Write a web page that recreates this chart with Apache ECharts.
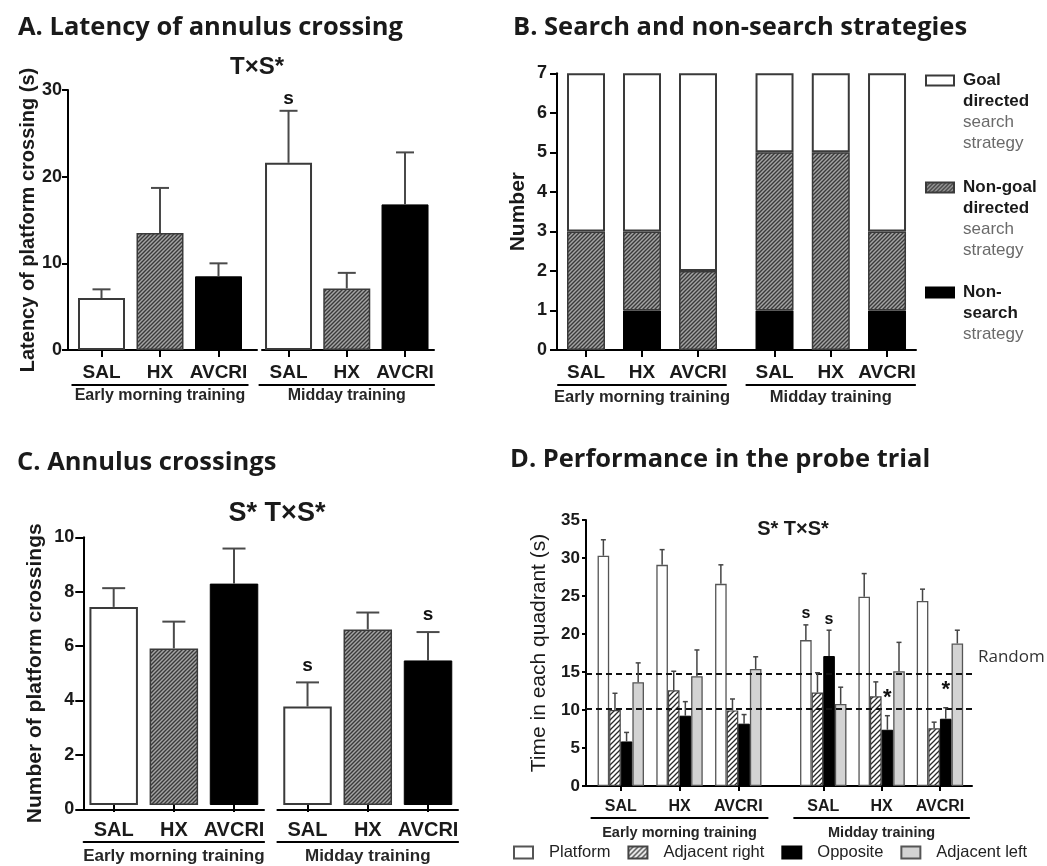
<!DOCTYPE html>
<html><head><meta charset="utf-8">
<script src="https://cdn.jsdelivr.net/npm/echarts@6/dist/echarts.min.js"></script>
<style>html,body{margin:0;padding:0;background:#fff}#chart{width:1047px;height:866px}</style>
</head><body><div id="chart"></div>
<script>
// ---------------- data ----------------
const treatments = ['SAL', 'HX', 'AVCRI'];
const trainingGroups = ['Early morning training', 'Midday training'];

// A. Latency of annulus crossing (s)
const latencyEarly = [6.0, 13.5, 8.5];
const latencyEarlyUpper = [7.0, 18.7, 10.0];
const latencyMidday = [21.6, 7.1, 16.8];
const latencyMiddayUpper = [27.6, 8.9, 22.8];
const latencyMiddayMarks = ['s', '', ''];

// B. Search strategies (number of animals)
const strategyNames = ['Non-search strategy', 'Non-goal directed search strategy', 'Goal directed search strategy'];
const nonSearchEarly = [0, 1, 0];
const nonGoalEarly = [3, 2, 2];
const goalEarly = [4, 4, 5];
const nonSearchMidday = [1, 0, 1];
const nonGoalMidday = [4, 5, 2];
const goalMidday = [2, 2, 4];

// C. Annulus crossings
const crossingsEarly = [7.4, 5.85, 8.27];
const crossingsEarlyUpper = [8.1, 6.85, 9.58];
const crossingsMidday = [3.68, 6.56, 5.4];
const crossingsMiddayUpper = [4.58, 7.19, 6.46];
const crossingsMiddayMarks = ['s', '', 's'];

// D. Probe trial, time in each quadrant (s); rows = quadrants
const quadrants = ['Platform', 'Adjacent right', 'Opposite', 'Adjacent left'];
const probeEarly = [[30.3, 29.1, 26.6], [10.0, 12.6, 9.95], [5.86, 9.25, 8.2], [13.66, 14.45, 15.4]];
const probeEarlyUpper = [[32.4, 31.1, 29.1], [12.2, 15.1, 11.45], [7.05, 11.1, 9.4], [16.2, 17.9, 17.0]];
const probeMidday = [[19.2, 24.9, 24.35], [12.3, 11.8, 7.6], [17.1, 7.4, 8.85], [10.8, 15.1, 18.75]];
const probeMiddayUpper = [[21.2, 27.95, 25.9], [14.9, 13.7, 8.4], [20.5, 9.25, 10.3], [13.0, 18.9, 20.5]];
const probeEarlyMarks = [['', '', ''], ['', '', ''], ['', '', ''], ['', '', '']];
const probeMiddayMarks = [['s', '', ''], ['', '', ''], ['s', '*', '*'], ['', '', '']];
const randomLevels = [14.8, 10.1];

// ---------------- styles ----------------
const F = '"Liberation Sans", Arial, sans-serif';
const TF = '"Open Sans", Lato, sans-serif';

function hatch(size, bg, fg, lw) {
  const c = document.createElement('canvas');
  c.width = c.height = size;
  const g = c.getContext('2d');
  g.fillStyle = bg; g.fillRect(0, 0, size, size);
  g.strokeStyle = fg; g.lineWidth = lw;
  g.beginPath();
  g.moveTo(-size, 2 * size); g.lineTo(2 * size, -size);
  g.moveTo(-size, size); g.lineTo(size, -size);
  g.moveTo(0, 2 * size); g.lineTo(2 * size, 0);
  g.stroke();
  return { image: c, repeat: 'repeat' };
}
const hatchDark = hatch(4, '#a4a4a4', '#3a3a3a', 1.4);
const hatchLight = hatch(5, '#ffffff', '#2a2a2a', 1.3);

const option = { animation: false, grid: [], xAxis: [], yAxis: [], series: [], legend: [], graphic: [] };

function addGrid(left, width, top, height) {
  option.grid.push({ left: left, width: width, top: top, height: height, containLabel: false });
  return option.grid.length - 1;
}

// baseline axes (full axis lines + value axis)
function baseAxes(segments, top, height, ymax, yint, cfg) {
  let first = null;
  segments.forEach(function (seg, k) {
    const gi = addGrid(seg[0], seg[1] - seg[0], top, height);
    const xi = option.xAxis.length;
    option.xAxis.push({ gridIndex: gi, type: 'value', min: 0, max: 1,
      axisLine: { show: true, onZero: false, lineStyle: { color: '#000', width: cfg.lw } },
      axisTick: { show: false }, axisLabel: { show: false }, splitLine: { show: false } });
    const yi = option.yAxis.length;
    if (k === 0) {
      option.yAxis.push({ gridIndex: gi, type: 'value', min: 0, max: ymax, interval: yint,
        name: cfg.name, nameLocation: 'middle', nameGap: cfg.nameGap,
        nameTextStyle: { fontFamily: F, fontSize: cfg.nameSize, fontWeight: cfg.nameWeight || 'bold', color: '#1a1a1a' },
        axisLine: { show: true, lineStyle: { color: '#000', width: cfg.lw } },
        axisTick: { show: true, length: cfg.tick, lineStyle: { color: '#000', width: cfg.lw } },
        axisLabel: { margin: cfg.margin, fontFamily: F, fontSize: cfg.labelSize, fontWeight: 'bold', color: '#1a1a1a' },
        splitLine: { show: false } });
      first = { xi: xi, yi: yi };
    } else {
      option.yAxis.push({ gridIndex: gi, type: 'value', min: 0, max: ymax, show: false });
    }
  });
  return first;
}

function dataGrid(left, width, top, height, ymax, groupName, cfg) {
  const gi = addGrid(left, width, top, height);
  const xi = option.xAxis.length;
  option.xAxis.push({ gridIndex: gi, type: 'category', data: treatments,
    axisLine: { show: false },
    axisTick: { show: true, alignWithLabel: true, interval: 0, length: cfg.tickLen, lineStyle: { color: '#000', width: cfg.lw } },
    axisLabel: { interval: 0, margin: cfg.labelMargin, fontFamily: F, fontSize: cfg.labelSize, fontWeight: 'bold', color: '#1a1a1a' } });
  option.xAxis.push({ gridIndex: gi, type: 'category', data: treatments, position: 'bottom', offset: cfg.ulOffset,
    axisLine: { show: true, lineStyle: { color: '#000', width: 2 } },
    axisTick: { show: false }, axisLabel: { show: false },
    name: groupName, nameLocation: 'middle', nameGap: cfg.nameGap,
    nameTextStyle: { fontFamily: F, fontSize: cfg.groupSize, fontWeight: 'bold', color: '#262626' } });
  const yi = option.yAxis.length;
  option.yAxis.push({ gridIndex: gi, type: 'value', min: 0, max: ymax, show: false });
  return { xi: xi, yi: yi };
}

function errSeries(g, means, uppers, opts) {
  return { type: 'custom', xAxisIndex: g.xi, yAxisIndex: g.yi, z: 5, silent: true,
    data: means.map(function (m, i) { return [i, m, uppers[i]]; }),
    renderItem: function (params, api) {
      const i = api.value(0);
      const p0 = api.coord([i, api.value(1)]);
      const p1 = api.coord([i, api.value(2)]);
      const x = p0[0] + (opts.offset || 0);
      const hw = opts.cap / 2;
      const ch = [
        { type: 'line', shape: { x1: x, y1: p0[1], x2: x, y2: p1[1] }, style: { stroke: opts.color, lineWidth: opts.lw } },
        { type: 'line', shape: { x1: x - hw, y1: p1[1], x2: x + hw, y2: p1[1] }, style: { stroke: opts.color, lineWidth: opts.lw } }
      ];
      const mk = opts.marks ? opts.marks[i] : '';
      if (mk) {
        const big = mk === '*';
        ch.push({ type: 'text', style: { text: mk, x: x, y: p1[1] - (big ? opts.starGap : opts.markGap),
          align: 'center', verticalAlign: 'middle', textAlign: 'center', textVerticalAlign: 'middle',
          fontFamily: F, fontWeight: 'bold', fontSize: big ? opts.starSize : opts.markSize, fill: '#111' } });
      }
      return { type: 'group', children: ch };
    } };
}

const styleWhite = { color: '#fff', borderColor: '#3a3a3a', borderWidth: 2 };
const styleHatch = { color: hatchDark, borderColor: '#3a3a3a', borderWidth: 1.5 };
const styleBlack = { color: '#000', borderColor: '#000', borderWidth: 1 };
const treatStyles = [styleWhite, styleHatch, styleBlack];

function simpleBars(g, vals, bw) {
  return { type: 'bar', xAxisIndex: g.xi, yAxisIndex: g.yi, barWidth: bw, z: 2,
    data: vals.map(function (v, i) { return { value: v, itemStyle: treatStyles[i] }; }) };
}

// ---------------- Panel A ----------------
(function () {
  const top = 90, h = 260;
  baseAxes([[68, 257], [262, 434]], top, h, 30, 10,
    { lw: 2, tick: 6, margin: 6, labelSize: 18, name: 'Latency of platform crossing (s)', nameGap: 30, nameSize: 20 });
  const cfg = { tickLen: 7, lw: 2, labelMargin: 13, labelSize: 19, ulOffset: 35, nameGap: 3, groupSize: 16 };
  const ge = dataGrid(72.25, 175.5, top, h, 30, trainingGroups[0], cfg);
  const gm = dataGrid(259.4, 174.75, top, h, 30, trainingGroups[1], cfg);
  const eo = { cap: 18, color: '#4a4a4a', lw: 2, markGap: 12, markSize: 19 };
  option.series.push(simpleBars(ge, latencyEarly, 47), simpleBars(gm, latencyMidday, 47));
  option.series.push(errSeries(ge, latencyEarly, latencyEarlyUpper, eo));
  option.series.push(errSeries(gm, latencyMidday, latencyMiddayUpper, Object.assign({ marks: latencyMiddayMarks }, eo)));
})();

// ---------------- Panel C ----------------
(function () {
  const top = 537.3, h = 272;
  baseAxes([[83.3, 264], [277.4, 458]], top, h, 10, 2,
    { lw: 2, tick: 8, margin: 9, labelSize: 18, name: 'Number of platform crossings', nameGap: 38, nameSize: 21 });
  const cfg = { tickLen: 7, lw: 2, labelMargin: 15, labelSize: 20, ulOffset: 37, nameGap: 6, groupSize: 17 };
  const ge = dataGrid(83.6, 180.5, top, h, 10, trainingGroups[0], cfg);
  const gm = dataGrid(277.4, 180.75, top, h, 10, trainingGroups[1], cfg);
  const eo = { cap: 23, color: '#4a4a4a', lw: 2, markGap: 17, markSize: 19 };
  option.series.push(simpleBars(ge, crossingsEarly, 48.5), simpleBars(gm, crossingsMidday, 48.5));
  option.series.push(errSeries(ge, crossingsEarly, crossingsEarlyUpper, eo));
  option.series.push(errSeries(gm, crossingsMidday, crossingsMiddayUpper, Object.assign({ marks: crossingsMiddayMarks }, eo)));
})();

// ---------------- Panel B ----------------
(function () {
  const top = 73.3, h = 276.7;
  baseAxes([[557, 916]], top, h, 7, 1,
    { lw: 2, tick: 7, margin: 10, labelSize: 18, name: 'Number', nameGap: 28, nameSize: 21 });
  const cfg = { tickLen: 7, lw: 2, labelMargin: 13, labelSize: 19, ulOffset: 35, nameGap: 4, groupSize: 16.5 };
  const ge = dataGrid(558, 168, top, h, 7, trainingGroups[0], cfg);
  const gm = dataGrid(746.4, 168.75, top, h, 7, trainingGroups[1], cfg);
  const stStyles = [
    { color: '#000', borderColor: '#000', borderWidth: 1 },
    { color: hatchDark, borderColor: '#3a3a3a', borderWidth: 1.5 },
    { color: '#fff', borderColor: '#3a3a3a', borderWidth: 2 }
  ];
  [[ge, [nonSearchEarly, nonGoalEarly, goalEarly], 'e'], [gm, [nonSearchMidday, nonGoalMidday, goalMidday], 'm']].forEach(function (d) {
    d[1].forEach(function (vals, k) {
      option.series.push({ type: 'bar', name: strategyNames[k], stack: 'st' + d[2], xAxisIndex: d[0].xi, yAxisIndex: d[0].yi,
        barWidth: 38, z: 2, itemStyle: stStyles[k], data: vals });
    });
  });
  const rich = {
    b: { fontFamily: F, fontSize: 17, fontWeight: 'bold', color: '#1a1a1a', lineHeight: 21 },
    n: { fontFamily: F, fontSize: 17, color: '#6a6a6a', lineHeight: 21 }
  };
  const legendItems = [
    { name: strategyNames[2], text: '{b|Goal}\n{b|directed}\n{n|search}\n{n|strategy}', lines: 4, iconY: 80 },
    { name: strategyNames[1], text: '{b|Non-goal}\n{b|directed}\n{n|search}\n{n|strategy}', lines: 4, iconY: 187 },
    { name: strategyNames[0], text: '{b|Non-}\n{b|search}\n{n|strategy}', lines: 3, iconY: 292 }
  ];
  legendItems.forEach(function (it) {
    const pad = (it.lines - 1) * 21;
    option.legend.push({ data: [it.name], orient: 'vertical', left: 925, top: it.iconY - 8,
      padding: 0, selectedMode: false, icon: 'rect', itemWidth: 28, itemHeight: 10,
      formatter: function () { return it.text; },
      textStyle: { padding: [pad, 0, 0, 4], rich: rich } });
  });
})();

// ---------------- Panel D ----------------
(function () {
  const top = 520, h = 266;
  const b = baseAxes([[586, 972]], top, h, 35, 5,
    { lw: 2, tick: 4, margin: 6, labelSize: 17, name: 'Time in each quadrant (s)', nameGap: 36, nameSize: 21, nameWeight: 'normal' });
  option.series.push({ type: 'line', xAxisIndex: b.xi, yAxisIndex: b.yi, data: [], silent: true,
    markLine: { silent: true, symbol: 'none', label: { show: false },
      lineStyle: { type: [6, 4], color: '#111', width: 2 },
      data: randomLevels.map(function (v) { return { yAxis: v }; }) } });
  const cfg = { tickLen: 5, lw: 2, labelMargin: 13, labelSize: 16, ulOffset: 32, nameGap: 7, groupSize: 14.5 };
  const ge = dataGrid(591.4, 176.25, top, h, 35, trainingGroups[0], cfg);
  const gm = dataGrid(794.1, 175, top, h, 35, trainingGroups[1], cfg);
  const bw = 11.6;
  const qStyles = [
    { color: '#fff', borderColor: '#555', borderWidth: 1.3 },
    { color: hatchLight, borderColor: '#444', borderWidth: 1.2 },
    { color: '#000', borderColor: '#000', borderWidth: 1 },
    { color: '#d3d3d3', borderColor: '#555', borderWidth: 1.3 }
  ];
  [[ge, probeEarly, probeEarlyUpper, probeEarlyMarks], [gm, probeMidday, probeMiddayUpper, probeMiddayMarks]].forEach(function (d) {
    quadrants.forEach(function (q, k) {
      option.series.push({ type: 'bar', name: q, xAxisIndex: d[0].xi, yAxisIndex: d[0].yi, barWidth: bw, barGap: '0%',
        z: 2, itemStyle: qStyles[k], data: d[1][k] });
    });
    quadrants.forEach(function (q, k) {
      option.series.push(errSeries(d[0], d[1][k], d[2][k], { offset: (k - 1.5) * bw, cap: 5, color: '#444', lw: 1.5,
        marks: d[3][k], markGap: 11, markSize: 16, starGap: 18, starSize: 22 }));
    });
  });
  option.legend.push({ data: quadrants, orient: 'horizontal', left: 513, top: 844, padding: 0, selectedMode: false,
    icon: 'rect', itemWidth: 19, itemHeight: 12, itemGap: 17,
    textStyle: { fontFamily: F, fontSize: 16.5, color: '#222', padding: [0, 0, 0, 11] } });
})();

// ---------------- titles & notes ----------------
function txt(t, x, y, font, align, fill) {
  return { type: 'text', x: x, y: y, silent: true,
    style: { text: t, font: font, fill: fill || '#1a1a1a', align: align, textAlign: align, verticalAlign: 'middle', textVerticalAlign: 'middle' } };
}
option.graphic = [
  txt('A. Latency of annulus crossing', 18, 28, 'bold 25.5px ' + TF, 'left'),
  txt('B. Search and non-search strategies', 513, 28, 'bold 25.5px ' + TF, 'left'),
  txt('C. Annulus crossings', 17, 463, 'bold 25.5px ' + TF, 'left'),
  txt('D. Performance in the probe trial', 510, 460, 'bold 25.5px ' + TF, 'left'),
  txt('T×S*', 257, 67, 'bold 24px ' + F, 'center'),
  txt('S* T×S*', 277, 514, 'bold 27px ' + F, 'center'),
  txt('S* T×S*', 793, 529, 'bold 20px ' + F, 'center'),
  txt('Random', 978, 657, '17px ' + TF, 'left', '#333')
];

const chart = echarts.init(document.getElementById('chart'), null, { renderer: 'canvas' });
chart.setOption(option);
</script>
</body></html>
